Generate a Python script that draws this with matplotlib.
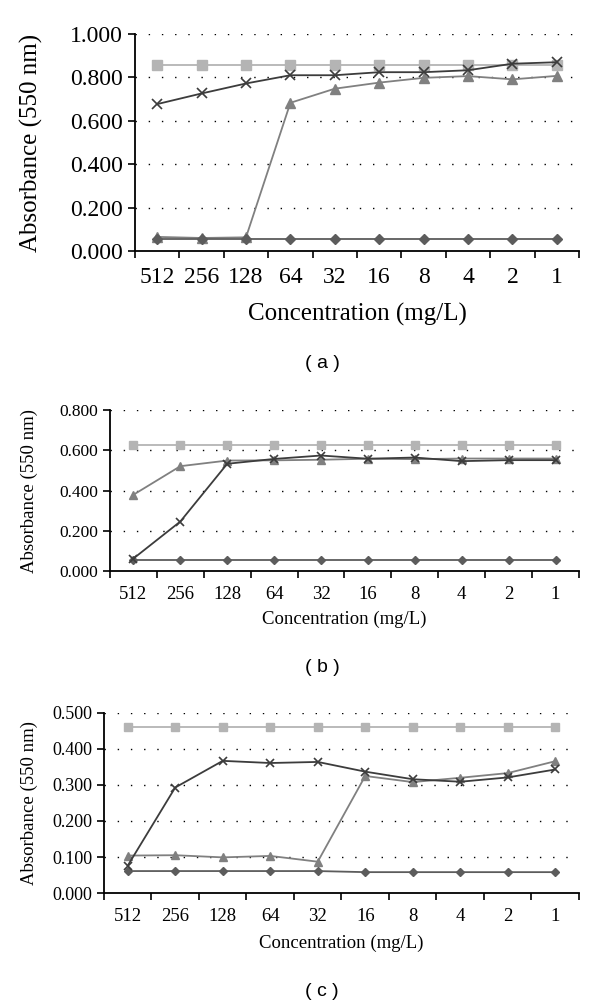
import matplotlib.pyplot as plt

conc = ["512", "256", "128", "64", "32", "16", "8", "4", "2", "1"]

# panel (a)
a_square = [0.855] * 10
a_diamond = [0.055] * 10
a_triangle = [0.065, 0.060, 0.063, 0.683, 0.748, 0.776, 0.798, 0.806, 0.791, 0.807]
a_cross = [0.677, 0.726, 0.772, 0.810, 0.810, 0.824, 0.824, 0.833, 0.863, 0.870]

# panel (b)
b_square = [0.628] * 10
b_diamond = [0.056] * 10
b_triangle = [0.379, 0.521, 0.549, 0.550, 0.553, 0.558, 0.556, 0.559, 0.559, 0.559]
b_cross = [0.062, 0.246, 0.533, 0.557, 0.574, 0.558, 0.564, 0.546, 0.551, 0.551]

# panel (c)
c_square = [0.461] * 10
c_diamond = [0.061, 0.061, 0.061, 0.061, 0.061, 0.058, 0.058, 0.058, 0.058, 0.058]
c_triangle = [0.104, 0.105, 0.099, 0.103, 0.087, 0.325, 0.308, 0.320, 0.333, 0.366]
c_cross = [0.076, 0.293, 0.367, 0.361, 0.364, 0.337, 0.316, 0.309, 0.321, 0.343]

serif = "Liberation Serif"
sans = "Liberation Sans"


def panel(ax, square, diamond, triangle, cross, ymax, step, fs_y, fs_x, fs_lab,
          ms, ylab_x, tick_pad, xlab_pad):
    x = range(len(conc))
    ax.plot(x, square, color="#b4b4b4", lw=1.3, marker="s", ms=ms, zorder=3)
    ax.plot(x, triangle, color="#808080", lw=1.3, marker="^", ms=ms, zorder=4)
    ax.plot(x, cross, color="#3c3c3c", lw=1.3, marker="x", ms=ms, mew=1.2, zorder=5)
    ax.plot(x, diamond, color="#5c5c5c", lw=1.3, marker="D", ms=ms * 0.7, zorder=4)

    ax.set_xlim(-0.5, len(conc) - 0.5)
    ax.set_ylim(0, ymax)
    yt = [i * step for i in range(int(round(ymax / step)) + 1)]
    ax.set_yticks(yt)
    ax.set_yticklabels([f"{v:.3f}" for v in yt], fontfamily=serif, fontsize=fs_y)
    for v in yt[1:]:
        ax.axhline(v, color="black", lw=1.0, linestyle=(0, (1, 8.5)), zorder=1)

    # category labels in the middle, tick marks on the boundaries
    ax.set_xticks([i + 0.5 for i in range(-1, len(conc))])
    ax.set_xticklabels([])
    ax.set_xticks(list(x), minor=True)
    ax.set_xticklabels(conc, minor=True, fontfamily=serif, fontsize=fs_x)
    ax.tick_params(axis="x", which="minor", length=0, pad=tick_pad)
    ax.tick_params(axis="x", which="major", length=5, width=1.2, direction="out")
    ax.tick_params(axis="y", length=5, width=1.2, direction="out")

    for s in ("top", "right"):
        ax.spines[s].set_visible(False)
    for s in ("left", "bottom"):
        ax.spines[s].set_linewidth(1.3)

    ax.set_xlabel("Concentration (mg/L)", fontfamily=serif, fontsize=fs_lab,
                  labelpad=xlab_pad)
    ax.set_ylabel("Absorbance (550 nm)", fontfamily=serif, fontsize=fs_lab)
    ax.yaxis.set_label_coords(ylab_x, 0.5)


fig = plt.figure(figsize=(6, 10.06), dpi=100)

ax_a = fig.add_axes([0.225, 0.7505, 0.74, 0.2157])
panel(ax_a, a_square, a_diamond, a_triangle, a_cross, 1.0, 0.2,
      17, 17, 18, 7, -0.207, 11.5, 11)

ax_b = fig.add_axes([0.1833, 0.4324, 0.7817, 0.160])
panel(ax_b, b_square, b_diamond, b_triangle, b_cross, 0.8, 0.2,
      12.5, 13.5, 13.5, 6, -0.154, 11, 5.5)

ax_c = fig.add_axes([0.1733, 0.1123, 0.7917, 0.179])
panel(ax_c, c_square, c_diamond, c_triangle, c_cross, 0.5, 0.1,
      13, 13.5, 13.5, 6, -0.139, 11, 7)

fig.text(0.537, 1 - 363 / 1006, "( a )", ha="center", va="center", fontfamily=sans, fontsize=14)
fig.text(0.537, 1 - 667 / 1006, "( b )", ha="center", va="center", fontfamily=sans, fontsize=14)
fig.text(0.537, 1 - 992 / 1006, "( c )", ha="center", va="center", fontfamily=sans, fontsize=14)

fig.savefig("out.png", dpi=100)
